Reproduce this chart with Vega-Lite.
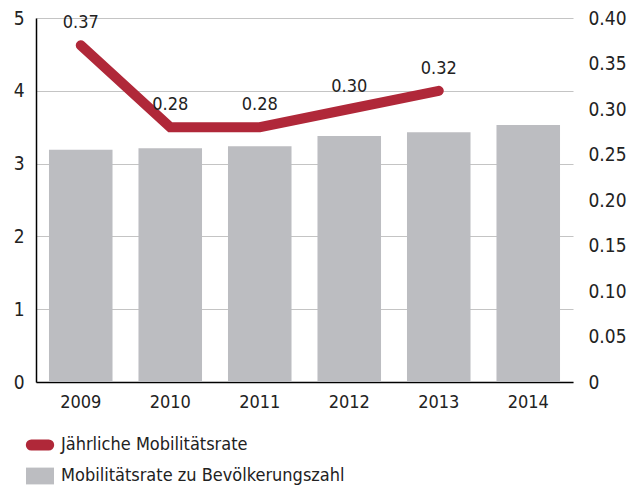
{
  "$schema": "https://vega.github.io/schema/vega-lite/v6.json",
  "width": 537,
  "height": 364,
  "autosize": {"type": "none"},
  "padding": {"left": 36, "top": 18, "right": 59, "bottom": 104},
  "background": "white",
  "config": {
    "view": {"stroke": null},
    "font": "DejaVu Sans Condensed",
    "axis": {"labelFont": "DejaVu Sans Condensed", "labelColor": "#222222", "labelFontSize": 19, "ticks": false, "title": null},
    "legend": {"labelFont": "DejaVu Sans Condensed"},
    "text": {"font": "DejaVu Sans Condensed"}
  },
  "data": {
    "values": [
      {"year": "2009", "bar": 3.19, "rate": 0.37},
      {"year": "2010", "bar": 3.21, "rate": 0.28},
      {"year": "2011", "bar": 3.24, "rate": 0.28},
      {"year": "2012", "bar": 3.38, "rate": 0.30},
      {"year": "2013", "bar": 3.43, "rate": 0.32},
      {"year": "2014", "bar": 3.53, "rate": null}
    ]
  },
  "encoding": {
    "x": {
      "field": "year", "type": "ordinal",
      "scale": {"paddingInner": 0.29, "paddingOuter": 0.145},
      "axis": {"labelAngle": 0, "domainColor": "#000000", "domainWidth": 1.5, "labelPadding": 11, "labelFontSize": 18}
    }
  },
  "layer": [
    {
      "mark": {"type": "bar", "color": "#BCBDC1"},
      "encoding": {
        "y": {
          "field": "bar", "type": "quantitative",
          "scale": {"domain": [0, 5], "nice": false},
          "axis": {"values": [0, 1, 2, 3, 4, 5], "grid": true, "gridColor": "#C4C4C4", "gridWidth": 1.2, "domainColor": "#000000", "domainWidth": 1.5, "labelPadding": 12}
        },
        "color": {
          "datum": "Mobilitätsrate zu Bevölkerungszahl",
          "type": "nominal",
          "scale": {"domain": ["Jährliche Mobilitätsrate", "Mobilitätsrate zu Bevölkerungszahl"], "range": ["#B02839", "#BCBDC1"]},
          "legend": {
            "orient": "none",
            "legendX": -5,
            "legendY": 418,
            "title": null,
            "labelFontSize": 18,
            "labelColor": "#222222",
            "labelLimit": 0,
            "symbolSize": 784,
            "rowPadding": -3,
            "labelOffset": 12,
            "encode": {
              "symbols": {
                "update": {
                  "shape": {"signal": "datum.value === 'Jährliche Mobilitätsrate' ? 'M-0.62,0 L0.62,0' : 'M-1,-0.6 L1,-0.6 L1,0.6 L-1,0.6 Z'"},
                  "fill": {"signal": "datum.value === 'Jährliche Mobilitätsrate' ? 'transparent' : '#BCBDC1'"},
                  "stroke": {"signal": "datum.value === 'Jährliche Mobilitätsrate' ? '#B02839' : 'transparent'"},
                  "strokeWidth": {"signal": "datum.value === 'Jährliche Mobilitätsrate' ? 11 : 0"},
                  "strokeCap": {"value": "round"},
                  "opacity": {"value": 1}
                }
              }
            }
          }
        }
      }
    },
    {
      "encoding": {
        "y": {
          "field": "rate", "type": "quantitative",
          "scale": {"domain": [0, 0.4], "nice": false},
          "axis": {"orient": "right", "values": [0, 0.05, 0.1, 0.15, 0.2, 0.25, 0.3, 0.35, 0.4], "labelExpr": "datum.value === 0 ? '0' : format(datum.value, '.2f')", "grid": false, "domain": false, "labelPadding": 15}
        }
      },
      "layer": [
        {
          "mark": {"type": "line", "strokeWidth": 10, "strokeCap": "round", "strokeJoin": "miter"},
          "encoding": {
            "color": {"datum": "Jährliche Mobilitätsrate", "type": "nominal"}
          }
        },
        {
          "mark": {"type": "text", "dy": -22, "fontSize": 18, "color": "#222222"},
          "encoding": {
            "text": {"field": "rate", "type": "quantitative", "format": ".2f"}
          }
        }
      ]
    }
  ],
  "resolve": {"scale": {"y": "independent"}}
}
